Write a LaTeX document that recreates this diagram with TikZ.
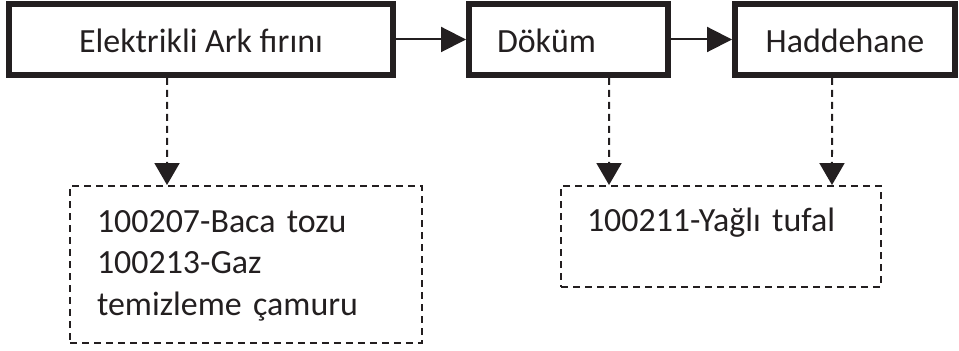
\documentclass[tikz,border=0pt]{standalone}
\usepackage{fontspec}
\setmainfont{Carlito}
\usepackage{tikz}
\usetikzlibrary{shapes,arrows.meta}
\definecolor{ink}{RGB}{35,31,32}
\tikzset{
	process/.style  = {draw, rectangle, line width = 0.12cm, inner ysep = 0pt,
		text height = 0.98cm, text depth = 0.44cm},
	waste/.style    = {draw, rectangle, line width = 0.04cm, dash pattern = on 0.14cm off 0.1cm,
		inner ysep = 0pt, align = left, text height = 0.92cm},
	flow/.style     = {-{Triangle[length = 0.5cm, width = 0.5cm]}, line width = 0.04cm},
	drop/.style     = {-{Triangle[length = 0.44cm, width = 0.5cm]}, line width = 0.04cm,
		dash pattern = on 0.14cm off 0.1cm}
}

\begin{document}
\begin{tikzpicture}[x = 0.02cm, y = 0.02cm, ink, font = \fontsize{19.3}{23.7}\selectfont]
	\useasboundingbox (0,0) rectangle (959,351);
	\draw
	node at (201,311.5)[process, minimum width = 7.68cm] (ark) {Elektrikli Ark fırını}
	node at (568.5,311.5)[process, align = left, inner xsep = 0.56cm, text width = 2.86cm] (dokum) {Döküm}
	node at (845,311.5)[process, minimum width = 4.4cm] (hadde) {Haddehane}
	node at (246,86.5)[waste, inner xsep = 0.54cm, text width = 5.96cm, text depth = 2.22cm] (atik1) {100207-Baca tozu\\100213-Gaz\\temizleme çamuru}
	node at (721,114.5)[waste, inner xsep = 0.52cm, text width = 5.36cm, text depth = 1.1cm] (atik2) {100211-Yağlı tufal}
	;
	
	\draw[flow](ark) -- (dokum);
	\draw[flow](dokum) -- (hadde);
	\draw[drop]([xshift = -0.68cm]ark.south) -- ([xshift = -1.58cm]atik1.north);
	\draw[drop]([xshift = 0.81cm]dokum.south) -- ([xshift = -2.24cm]atik2.north);
	\draw[drop]([xshift = -0.26cm]hadde.south) -- ([xshift = 2.22cm]atik2.north);
\end{tikzpicture}
\end{document}
